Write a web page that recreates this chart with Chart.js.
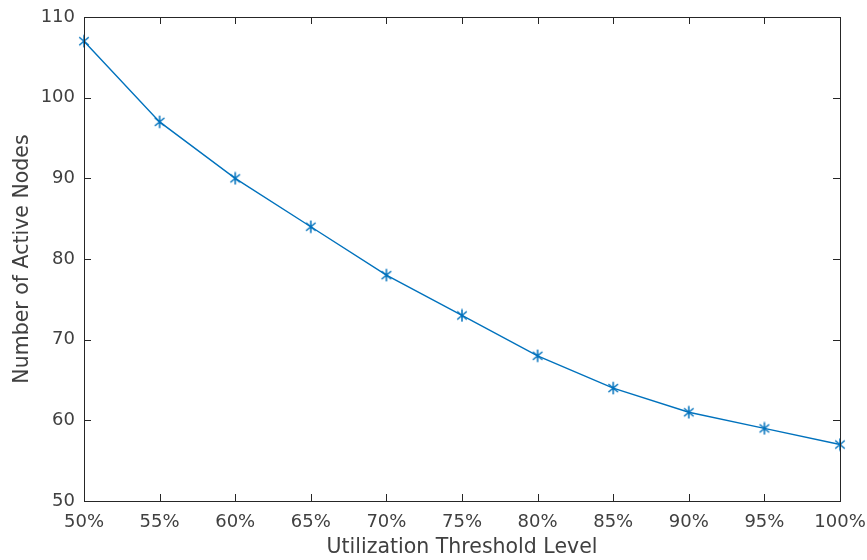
<!DOCTYPE html>
<html>
<head>
<meta charset="utf-8">
<script src="https://cdn.jsdelivr.net/npm/chart.js@4/dist/chart.umd.min.js"></script>
<style>
html,body{margin:0;padding:0;background:#fff;}
#wrap{width:867px;height:560px;position:relative;}
</style>
</head>
<body>
<div id="wrap"><canvas id="c" width="867" height="560"></canvas></div>
<script>
const categories = ['50%','55%','60%','65%','70%','75%','80%','85%','90%','95%','100%'];
const activeNodes = [107, 97, 90, 84, 78, 73, 68, 64, 61, 59, 57];
const yTicks = [50, 60, 70, 80, 90, 100, 110];

const LINE = '#0072BD';
const AX = '#262626';
const TXT = '#404040';
const FONT = 'DejaVu Sans';

function makeAsterisk(size, color){
  const c = document.createElement('canvas');
  c.width = size; c.height = size;
  const g = c.getContext('2d');
  const r = size/2 - 0.75, cx = size/2, cy = size/2;
  g.strokeStyle = color; g.lineWidth = 1.5;
  g.beginPath();
  g.moveTo(cx, cy - r); g.lineTo(cx, cy + r);
  const a = 40*Math.PI/180;
  g.moveTo(cx - r*Math.cos(a), cy - r*Math.sin(a)); g.lineTo(cx + r*Math.cos(a), cy + r*Math.sin(a));
  g.moveTo(cx - r*Math.cos(a), cy + r*Math.sin(a)); g.lineTo(cx + r*Math.cos(a), cy - r*Math.sin(a));
  g.stroke();
  return c;
}
const star = makeAsterisk(14, LINE);

const boxPlugin = {
  id: 'box',
  afterDatasetsDraw(chart){
    const {ctx, chartArea: a, scales} = chart;
    ctx.save();
    ctx.strokeStyle = AX; ctx.lineWidth = 1;
    ctx.strokeRect(Math.round(a.left)+0.5, Math.round(a.top)+0.5, Math.round(a.right-a.left), Math.round(a.bottom-a.top));
    const L = 7;
    ctx.beginPath();
    scales.x.ticks.forEach((t,i)=>{
      const x = Math.round(scales.x.getPixelForTick(i))+0.5;
      ctx.moveTo(x, a.bottom); ctx.lineTo(x, a.bottom - L);
      ctx.moveTo(x, a.top); ctx.lineTo(x, a.top + L);
    });
    scales.y.ticks.forEach((t)=>{
      const y = Math.round(scales.y.getPixelForValue(t.value))+0.5;
      ctx.moveTo(a.left, y); ctx.lineTo(a.left + L, y);
      ctx.moveTo(a.right, y); ctx.lineTo(a.right - L, y);
    });
    ctx.stroke();
    ctx.restore();
  }
};

new Chart(document.getElementById('c'), {
  type: 'line',
  data: {
    labels: categories,
    datasets: [{
      data: activeNodes,
      borderColor: LINE,
      borderWidth: 1.4,
      tension: 0,
      pointStyle: star,
      pointRadius: 7,
      pointHoverRadius: 7,
      fill: false,
      clip: false
    }]
  },
  options: {
    responsive: false,
    animation: false,
    devicePixelRatio: 1,
    layout: { padding: { top: 17, right: 27, left: 0, bottom: 0 } },
    plugins: { legend: { display: false }, tooltip: { enabled: false } },
    scales: {
      x: {
        type: 'category',
        offset: false,
        grid: { display: false, drawTicks: false },
        border: { display: false },
        ticks: { color: TXT, font: { family: FONT, size: 18 }, padding: 11, maxRotation: 0, autoSkip: false },
        title: { display: true, text: 'Utilization Threshold Level', color: TXT, font: { family: FONT, size: 20.5 }, padding: { top: 0, bottom: 0 } },
        afterFit(s){ s.height = 59; s.paddingLeft = 0; s.paddingRight = 0; }
      },
      y: {
        min: 50, max: 110,
        afterBuildTicks(s){ s.ticks = yTicks.map(v => ({ value: v })); },
        grid: { display: false, drawTicks: false },
        border: { display: false },
        ticks: { color: TXT, font: { family: FONT, size: 18 }, padding: 9 },
        title: { display: true, text: 'Number of Active Nodes', color: TXT, font: { family: FONT, size: 20.5 }, padding: { top: 10, bottom: 0 } },
        afterFit(s){ s.width = 84; s.paddingTop = 0; s.paddingBottom = 0; }
      }
    }
  },
  plugins: [boxPlugin]
});
</script>
</body>
</html>
